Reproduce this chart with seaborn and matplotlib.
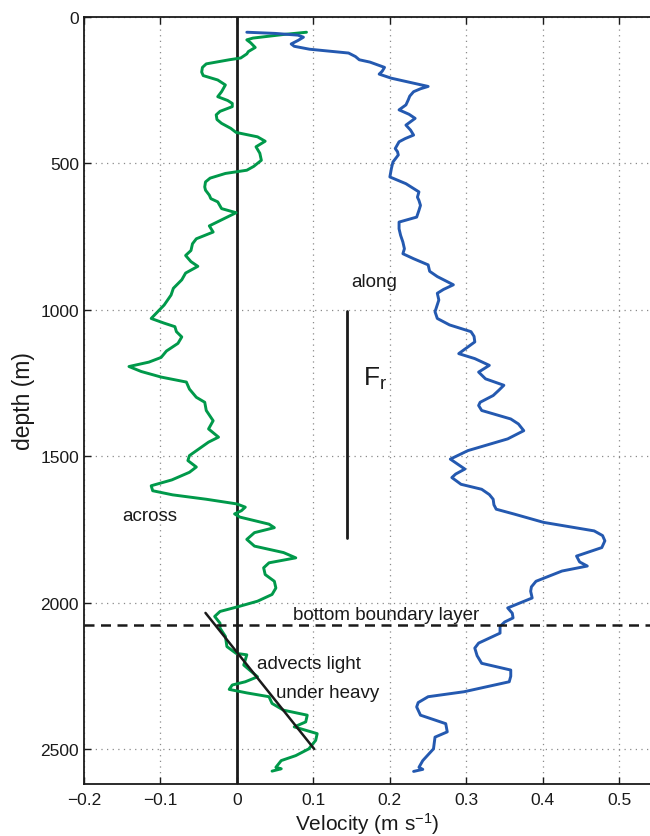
import matplotlib
matplotlib.use("Agg")
import matplotlib.pyplot as plt
import numpy as np
import pandas as pd
import seaborn as sns

# ---- velocity profiles (depth in m, velocity in m/s) ----
across_depth = [52, 60, 72, 78, 88, 104, 118, 126, 140, 146, 160, 172, 188, 200, 215, 232,
                255, 272, 285, 295, 306, 322, 334, 350, 363, 380, 394, 409, 424, 443, 465,
                489, 510, 523, 534, 550, 563, 580, 591, 608, 620, 631, 654, 668, 686, 700,
                713, 734, 757, 774, 797, 814, 835, 851, 874, 897, 926, 949, 983, 1010,
                1029, 1045, 1057, 1074, 1092, 1114, 1140, 1162, 1178, 1193, 1210, 1229,
                1246, 1270, 1298, 1315, 1343, 1378, 1406, 1434, 1451, 1475, 1497, 1514,
                1536, 1554, 1580, 1600, 1617, 1631, 1646, 1662, 1673, 1685, 1696, 1707,
                1731, 1743, 1760, 1783, 1806, 1828, 1846, 1863, 1880, 1903, 1926, 1949,
                1971, 1994, 2011, 2029, 2046, 2069, 2086, 2114, 2149, 2172, 2177, 2194,
                2212, 2252, 2269, 2280, 2295, 2307, 2320, 2343, 2366, 2383, 2406, 2423,
                2446, 2469, 2498, 2521, 2538, 2561, 2566, 2574]
across_vel = [0.091, 0.060, 0.021, 0.013, 0.018, 0.024, 0.015, 0.013, 0.005, -0.010, -0.040,
              -0.045, -0.046, -0.044, -0.025, -0.015, -0.020, -0.025, -0.012, -0.006,
              -0.006, -0.022, -0.027, -0.026, -0.020, -0.008, -0.001, 0.027, 0.037, 0.025,
              0.030, 0.032, 0.022, 0.013, -0.015, -0.035, -0.041, -0.042, -0.041, -0.036,
              -0.034, -0.025, -0.020, -0.001, -0.015, -0.026, -0.036, -0.031, -0.053,
              -0.058, -0.060, -0.067, -0.060, -0.051, -0.067, -0.072, -0.083, -0.086,
              -0.095, -0.105, -0.112, -0.095, -0.081, -0.079, -0.072, -0.077, -0.092,
              -0.099, -0.115, -0.141, -0.125, -0.099, -0.066, -0.062, -0.053, -0.042,
              -0.040, -0.031, -0.037, -0.024, -0.037, -0.050, -0.062, -0.064, -0.053,
              -0.062, -0.085, -0.112, -0.110, -0.084, -0.040, 0.000, 0.011, 0.006,
              -0.003, 0.004, 0.042, 0.049, 0.023, 0.013, 0.023, 0.061, 0.077, 0.042,
              0.035, 0.037, 0.049, 0.051, 0.046, 0.027, 0.004, -0.022, -0.029, -0.022,
              -0.022, -0.015, -0.013, -0.001, 0.013, 0.011, 0.009, 0.027, 0.011, -0.006,
              -0.010, 0.013, 0.042, 0.046, 0.061, 0.092, 0.090, 0.075, 0.105, 0.103,
              0.094, 0.077, 0.058, 0.051, 0.058, 0.046]

along_depth = [52, 56, 62, 69, 80, 92, 100, 110, 123, 135, 146, 154, 172, 185, 195, 209, 237,
               245, 255, 270, 283, 300, 317, 332, 346, 369, 386, 403, 415, 426, 449, 460,
               471, 495, 517, 546, 569, 597, 615, 626, 643, 660, 683, 700, 723, 745, 768,
               791, 808, 825, 846, 868, 886, 914, 930, 943, 966, 1006, 1029, 1051, 1074,
               1090, 1109, 1130, 1149, 1166, 1189, 1212, 1235, 1257, 1275, 1292, 1315,
               1326, 1343, 1372, 1389, 1412, 1440, 1480, 1509, 1525, 1543, 1560, 1572,
               1595, 1612, 1630, 1646, 1665, 1680, 1697, 1725, 1754, 1770, 1788, 1811,
               1840, 1860, 1874, 1891, 1926, 1945, 1960, 1983, 2017, 2035, 2051, 2065,
               2080, 2103, 2137, 2154, 2180, 2206, 2229, 2250, 2269, 2303, 2320, 2340,
               2355, 2383, 2412, 2440, 2458, 2498, 2538, 2561, 2568, 2575]
along_vel = [0.013, 0.050, 0.080, 0.087, 0.080, 0.071, 0.075, 0.095, 0.146, 0.155, 0.160,
             0.174, 0.193, 0.190, 0.186, 0.202, 0.250, 0.240, 0.231, 0.226, 0.224, 0.221,
             0.212, 0.225, 0.233, 0.221, 0.227, 0.231, 0.220, 0.212, 0.207, 0.210, 0.211,
             0.204, 0.202, 0.200, 0.221, 0.238, 0.236, 0.238, 0.240, 0.238, 0.235, 0.212,
             0.212, 0.214, 0.217, 0.219, 0.217, 0.231, 0.250, 0.252, 0.262, 0.283, 0.270,
             0.262, 0.264, 0.259, 0.262, 0.278, 0.306, 0.310, 0.311, 0.300, 0.290, 0.311,
             0.330, 0.316, 0.325, 0.349, 0.342, 0.335, 0.318, 0.316, 0.320, 0.358, 0.368,
             0.375, 0.354, 0.302, 0.279, 0.288, 0.298, 0.286, 0.281, 0.293, 0.320, 0.330,
             0.335, 0.336, 0.339, 0.363, 0.401, 0.467, 0.478, 0.481, 0.477, 0.444, 0.448,
             0.458, 0.425, 0.391, 0.385, 0.384, 0.386, 0.354, 0.360, 0.361, 0.350, 0.344,
             0.344, 0.316, 0.311, 0.314, 0.320, 0.358, 0.358, 0.356, 0.297, 0.250, 0.237,
             0.235, 0.240, 0.273, 0.275, 0.259, 0.257, 0.243, 0.238, 0.243, 0.231]

# shear line in the bottom boundary layer
shear_vel = [-0.041, 0.101]
shear_depth = [2034, 2498]

# Froude-number depth range
fr_vel = [0.144, 0.144]
fr_depth = [1002, 1779]

bbl_depth = 2074

x_ticks = [-0.2, -0.1, 0, 0.1, 0.2, 0.3, 0.4, 0.5]
x_ticklabels = ["\u22120.2", "\u22120.1", "0", "0.1", "0.2", "0.3", "0.4", "0.5"]
y_ticks = [0, 500, 1000, 1500, 2000, 2500]

GREEN = "#00994a"
BLUE = "#2459b0"
INK = "#1a1a1a"

sns.set_style("white")
plt.rcParams["font.family"] = ["Liberation Sans", "DejaVu Sans"]
plt.rcParams["mathtext.fontset"] = "custom"
plt.rcParams["mathtext.rm"] = "Liberation Sans"
plt.rcParams["mathtext.it"] = "Liberation Sans"

fig = plt.figure(figsize=(6.5, 8.37), dpi=100)
ax = fig.add_axes([0.129, 0.0621, 0.871, 0.9164])

across = pd.DataFrame({"depth": across_depth, "vel": across_vel})
along = pd.DataFrame({"depth": along_depth, "vel": along_vel})

sns.lineplot(data=across, x="vel", y="depth", sort=False, estimator=None,
             color=GREEN, lw=2.1, ax=ax, solid_joinstyle="round", solid_capstyle="round")
sns.lineplot(data=along, x="vel", y="depth", sort=False, estimator=None,
             color=BLUE, lw=2.1, ax=ax, solid_joinstyle="round", solid_capstyle="round")

ax.axvline(0, color=INK, lw=2.0, zorder=1)
ax.plot(shear_vel, shear_depth, color=INK, lw=1.8)
ax.plot(fr_vel, fr_depth, color=INK, lw=2.0)
ax.axhline(bbl_depth, color=INK, lw=1.8, ls=(0, (4, 2.6)))

ax.set_xlim(-0.2, 0.54)
ax.set_ylim(2618, 0)
ax.set_xticks(x_ticks)
ax.set_xticklabels(x_ticklabels)
ax.set_yticks(y_ticks)

ax.grid(True, color="#8a8a8a", ls=(0, (1, 3.5)), lw=0.9)
ax.tick_params(direction="in", length=5, width=1.0, top=True, bottom=True,
               left=True, right=False, labelsize=12.5, colors=INK)
ax.tick_params(axis="y", pad=3.5)
ax.tick_params(axis="x", pad=6)
for side in ["left", "bottom", "top"]:
    ax.spines[side].set_color(INK)
    ax.spines[side].set_linewidth(1.3)
ax.spines["right"].set_visible(False)

ax.set_xlabel("Velocity (m s$^{-1}$)", fontsize=15, color=INK, labelpad=2)
ax.set_ylabel("depth (m)", fontsize=16.5, color=INK, labelpad=4)

txt = dict(color=INK, fontsize=13.5)
ax.text(0.180, 904, "along", ha="center", va="center", **txt)
ax.text(-0.114, 1703, "across", ha="center", va="center", **txt)
ax.text(0.026, 2206, "advects light", ha="left", va="center", **txt)
ax.text(0.051, 2305, "under heavy", ha="left", va="center", **txt)
ax.text(0.195, 2040, "bottom boundary layer", ha="center", va="center", **txt)
ax.text(0.165, 1232, r"F$_{\mathregular{r}}$", ha="left", va="center", color=INK, fontsize=19)

fig.savefig("out.png", dpi=100)
